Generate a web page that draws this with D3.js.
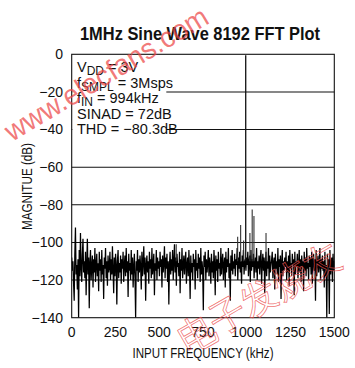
<!DOCTYPE html>
<html><head><meta charset="utf-8">
<script src="https://cdn.jsdelivr.net/npm/d3@7"></script>
<style>
html,body{margin:0;padding:0;background:#fff;}
svg{display:block;}
text{font-family:"Liberation Sans Narrow","Arial Narrow","Liberation Sans",Arial,sans-serif;fill:#111;}
</style></head>
<body>
<svg id="c" width="355" height="368"></svg>
<script>
const title = "1MHz Sine Wave 8192 FFT Plot";
const xTicks = [0, 250, 500, 750, 1000, 1250, 1500];
const yTicks = [0, -20, -40, -60, -80, -100, -120, -140];
const xLabel = "INPUT FREQUENCY (kHz)";
const yLabel = "MAGNITUE (dB)";
const notes = [
  ["V", "DD", " = 3V"],
  ["f", "SMPL", " = 3Msps"],
  ["f", "IN", " = 994kHz"],
  ["SINAD = 72dB", "", ""],
  ["THD = \u221280.3dB", "", ""]
];
// noise floor, evenly spaced bins from 0 to 1500 kHz (dB)
const noiseDb = [
-108,-115,-110,-122,-131,-106,-92,-117,-112,-125,-109,-140,-104,-118,-95,-113,-121,-107,-98,-116,
-110,-119,-105,-128,-112,-98,-117,-108,-135,-111,-104,-120,-113,-107,-124,-109,-116,-103,-121,-112,
-106,-118,-111,-126,-105,-115,-109,-121,-104,-117,-112,-130,-108,-114,-103,-119,-110,-123,-107,-116,
-113,-105,-120,-109,-117,-102,-115,-127,-108,-118,-106,-112,-133,-110,-104,-119,-111,-116,-107,-122,
-109,-114,-105,-121,-112,-107,-118,-103,-116,-110,-129,-106,-115,-111,-120,-104,-117,-108,-124,-113,
-106,-119,-140,-110,-115,-104,-121,-109,-116,-107,-113,-125,-105,-118,-111,-102,-117,-108,-131,-112,
-107,-116,-110,-122,-105,-114,-109,-119,-103,-117,-112,-106,-128,-111,-115,-104,-120,-108,-114,-110,
-118,-105,-113,-109,-124,-107,-116,-111,-102,-119,-108,-114,-106,-121,-110,-133,-112,-105,-117,-109,
-115,-104,-120,-110,-101,-116,-108,-123,-106,-113,-111,-118,-105,-127,-109,-115,-103,-119,-112,-107,
-117,-110,-105,-122,-112,-108,-118,-104,-114,-130,-107,-116,-111,-120,-106,-113,-109,-125,-104,-115,
-111,-119,-106,-114,-108,-121,-103,-117,-110,-115,-136,-107,-113,-105,-120,-109,-116,-111,-104,-118,
-108,-113,-122,-106,-116,-110,-119,-104,-112,-128,-107,-115,-109,-121,-105,-114,-111,-118,-103,-117,
-110,-106,-120,-112,-108,-124,-105,-116,-109,-113,-103,-119,-111,-131,-107,-115,-104,-117,-110,-114,
-106,-118,-109,-112,-103,-120,-108,-114,-105,-116,-110,-122,-107,-113,-104,-117,-111,-109,-115,-108,
-112,-105,-118,-110,-107,-121,-104,-115,-109,-113,-106,-119,-111,-108,-116,-103,-120,-110,-114,-107,
-117,-109,-104,-122,-112,-106,-115,-108,-127,-111,-105,-118,-110,-114,-103,-120,-107,-116,-112,-109,
-105,-119,-111,-108,-125,-106,-114,-110,-117,-103,-121,-109,-113,-107,-130,-111,-104,-118,-110,-115,
-108,-113,-105,-120,-110,-116,-107,-123,-104,-114,-111,-118,-106,-112,-109,-128,-105,-117,-110,-113,
-106,-119,-112,-104,-116,-109,-121,-107,-113,-110,-126,-105,-115,-108,-118,-103,-114,-111,-120,-107,
-113,-108,-117,-105,-122,-110,-106,-115,-109,-131,-104,-118,-111,-107,-116,-112,-103,-120,-109,-114,
-107,-115,-110,-124,-105,-118,-112,-140,-106,-113,-109,-138,-104,-117,-111,-108,-121,-106,-115,-110
];
// fundamental and spurs
const spurFreq = [948, 965, 982, 994, 1018, 1031, 1041, 1110, 597];
const spurDb   = [-97, -90.7, -99, -0.5, -95, -82.5, -86, -95, -101];

const svg = d3.select("#c");
const L = 71.7, R = 334.3, T = 54.3, B = 317.7;
const x = d3.scaleLinear().domain([0, 1500]).range([L, R]);
const y = d3.scaleLinear().domain([0, -140]).range([T, B]);

svg.append("defs").append("clipPath").attr("id", "clip")
  .append("rect").attr("x", L).attr("y", T).attr("width", R - L).attr("height", B - T);

// title
svg.append("text").attr("x", 200).attr("y", 40).attr("text-anchor", "middle")
  .attr("font-size", 19).attr("font-weight", "bold")
  .attr("textLength", 240).attr("lengthAdjust", "spacingAndGlyphs")
  .text(title);

// gridlines
svg.append("g").selectAll("line").data(yTicks.filter(d => d < 0 && d > -140)).join("line")
  .attr("x1", L).attr("x2", R).attr("y1", d => y(d)).attr("y2", d => y(d))
  .attr("stroke", "#111").attr("stroke-width", 1.1);

// spectrum
const g = svg.append("g").attr("clip-path", "url(#clip)");
const step = 1500 / (noiseDb.length - 1);
g.append("path").datum(noiseDb)
  .attr("fill", "none").attr("stroke", "#000").attr("stroke-width", 1.25)
  .attr("stroke-linejoin", "miter").attr("stroke-miterlimit", 2)
  .attr("d", d3.line().x((d, i) => x(i * step)).y(d => y(d)));
g.selectAll("line.spur").data(spurFreq).join("line").attr("class", "spur")
  .attr("x1", d => x(d)).attr("x2", d => x(d))
  .attr("y1", y(-110)).attr("y2", (d, i) => y(spurDb[i]))
  .attr("stroke", (d, i) => spurDb[i] > -10 ? "#111" : "#333")
  .attr("stroke-width", (d, i) => spurDb[i] > -10 ? 1.3 : 1.1);

// annotation box
svg.append("rect").attr("x", L + 0.6).attr("y", T + 0.6).attr("width", 94).attr("height", 85)
  .attr("fill", "#fff");
const baselines = [72.3, 87.8, 103.2, 118.5, 134.2];
notes.forEach((n, i) => {
  const t = svg.append("text").attr("x", 77).attr("y", baselines[i]).attr("font-size", 14.5);
  t.append("tspan").text(n[0]);
  if (n[1]) t.append("tspan").attr("dy", 3).attr("font-size", 12).text(n[1]);
  if (n[2]) t.append("tspan").attr("dy", n[1] ? -3 : 0).text(n[2]);
});

// frame
svg.append("rect").attr("x", L).attr("y", T).attr("width", R - L).attr("height", B - T)
  .attr("fill", "none").attr("stroke", "#111").attr("stroke-width", 1.1);

// y tick labels
svg.append("g").selectAll("text").data(yTicks).join("text")
  .attr("x", 63).attr("y", d => y(d)).attr("dy", "0.35em").attr("text-anchor", "end")
  .attr("font-size", 14).text(d => d === 0 ? "0" : "\u2212" + Math.abs(d));

// x tick labels
svg.append("g").selectAll("text").data(xTicks).join("text")
  .attr("x", d => x(d)).attr("y", 336.5).attr("text-anchor", "middle")
  .attr("font-size", 14).text(d => d);

// axis titles
svg.append("text").attr("x", 203).attr("y", 358).attr("text-anchor", "middle")
  .attr("font-size", 14).attr("textLength", 141).attr("lengthAdjust", "spacingAndGlyphs").text(xLabel);
svg.append("text").attr("transform", "translate(32,186.5) rotate(-90)").attr("text-anchor", "middle")
  .attr("font-size", 14).attr("textLength", 87).attr("lengthAdjust", "spacingAndGlyphs").text(yLabel);

// watermarks
svg.append("text").attr("transform", "translate(12,142) rotate(-31)")
  .attr("font-family", "Liberation Sans, Arial, sans-serif").attr("font-size", 29)
  .attr("textLength", 232).attr("lengthAdjust", "spacingAndGlyphs")
  .style("fill", "rgba(236,70,70,0.72)").text("www.elecfans.com");
svg.append("text").attr("transform", "translate(188,354) rotate(-30)")
  .attr("font-family", "Noto Sans CJK SC, sans-serif").attr("font-size", 38)
  .attr("textLength", 180).attr("lengthAdjust", "spacingAndGlyphs")
  .style("fill", "none").attr("stroke", "rgba(236,80,80,0.8)").attr("stroke-width", 0.8)
  .text("电子发烧友");
</script>
</body></html>
